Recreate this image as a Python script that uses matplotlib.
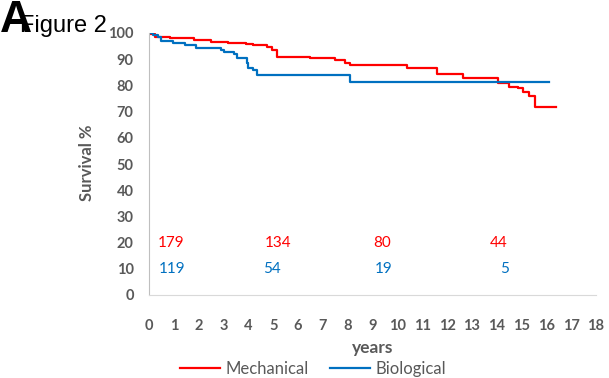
import matplotlib
matplotlib.use("Agg")
import matplotlib.pyplot as plt

# Kaplan-Meier style survival curves (years, survival %)
mech_t = [0, 0.24, 0.84, 1.83, 2.5, 3.2, 3.9, 4.2, 4.74, 4.94, 5.14, 6.5, 7.5, 7.9, 8.1,
          10.4, 11.6, 12.66, 14.05, 14.5, 14.85, 15.05, 15.3, 15.54, 16.37]
mech_s = [99.5, 98.6, 98.0, 97.3, 96.7, 96.0, 95.8, 95.4, 94.8, 93.5, 91.0, 90.3, 89.7, 88.4, 87.8,
          86.5, 84.2, 82.7, 81.0, 79.5, 78.9, 77.6, 75.9, 71.6, 71.6]
bio_t = [0, 0.16, 0.36, 0.5, 0.96, 1.43, 1.9, 2.9, 3.03, 3.43, 3.55, 3.94, 4.0, 4.2, 4.35, 8.08, 16.1]
bio_s = [100, 99.2, 98.6, 97.1, 96.3, 95.4, 94.4, 93.5, 92.9, 91.9, 90.3, 88.4, 86.5, 85.9, 84.0, 81.4, 81.4]

# numbers at risk
risk_mech_x = [0.9, 5.2, 9.4, 14.1]
risk_mech = ["179", "134", "80", "44"]
risk_bio_x = [0.95, 4.95, 9.45, 14.3]
risk_bio = ["119", "54", "19", "5"]

red = "#FF0000"
blue = "#0070C0"
grey = "#595959"

fig = plt.figure(figsize=(6.09, 3.78), dpi=100)
ax = fig.add_axes([149 / 609, 1 - 295 / 378, 447 / 609, 262 / 378])

ax.plot(mech_t, mech_s, color=red, lw=1.6, drawstyle="steps-post", label="Mechanical")
ax.plot(bio_t, bio_s, color=blue, lw=1.6, drawstyle="steps-post", label="Biological")

for x, s in zip(risk_mech_x, risk_mech):
    ax.text(x, 20, s, color=red, ha="center", va="center", fontsize=11, family="Lato")
for x, s in zip(risk_bio_x, risk_bio):
    ax.text(x, 10, s, color=blue, ha="center", va="center", fontsize=11, family="Lato")

ax.set_xlim(0, 18)
ax.set_ylim(0, 100)
ax.set_xticks(range(0, 19))
ax.set_yticks(range(0, 101, 10))
ax.tick_params(length=0, labelsize=10.5, labelcolor=grey)
ax.tick_params(axis="x", pad=17)
ax.tick_params(axis="y", pad=11)
for lab in ax.get_xticklabels() + ax.get_yticklabels():
    lab.set_fontfamily("Lato")
    lab.set_fontweight("bold")

for side in ["top", "right"]:
    ax.spines[side].set_visible(False)
ax.spines["left"].set_color("#BFBFBF")
ax.spines["bottom"].set_color("#D9D9D9")

fig.text(87 / 609, 1 - 163 / 378, "Survival %", rotation=90, ha="center", va="center",
         fontsize=12, fontweight="bold", color=grey, family="Lato")
fig.text(373 / 609, 1 - 348 / 378, "years", ha="center", va="center",
         fontsize=12.5, fontweight="bold", color=grey, family="Lato")

fig.legend(loc="center", bbox_to_anchor=(313 / 609, 1 - 369 / 378), ncol=2, frameon=False,
           prop={"family": "Lato", "size": 12}, handlelength=2.4, handletextpad=0.3,
           columnspacing=1.3, labelcolor=grey)

fig.text(20 / 609, 1 - 32 / 378, "Figure 2", fontsize=17, family="Liberation Sans", va="baseline")
fig.text(0, 1 - 32 / 378, "A", fontsize=32, fontweight="bold", family="Liberation Sans",
         va="baseline")

fig.savefig("out.png", dpi=100)
